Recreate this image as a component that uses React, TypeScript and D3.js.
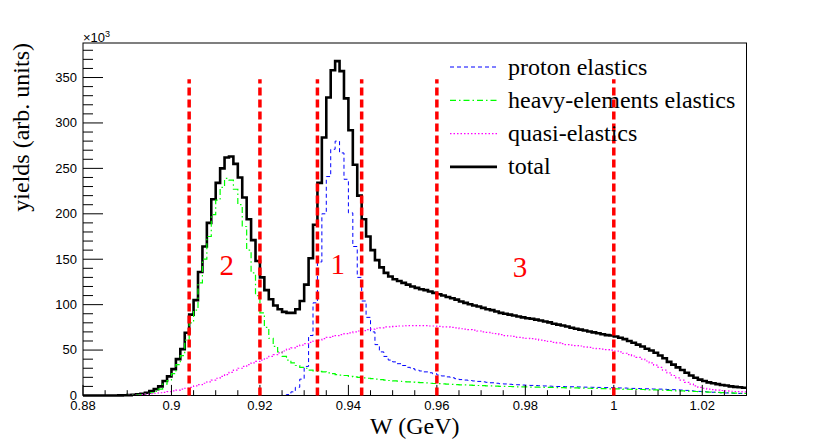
import * as d3 from "d3";

// bins of 0.001 GeV from 0.880 to 1.030
const binStart = 0.88;
const binWidth = 0.001;

// yields in units of 10^3
const total = [
  0, 0, 0, 0, 0, 0, 0, 0, 0.1, 0.2,
  0.4, 0.8, 1.2, 2, 3, 5, 7, 10, 16, 21,
  29, 40, 51, 69, 89, 105, 136, 164, 190, 216,
  234, 250, 262, 263, 255, 240, 218, 194, 171, 148,
  130, 116, 106, 99, 95, 92, 91, 91, 95, 104,
  122, 151, 188, 234, 284, 328, 358, 368, 357, 327,
  292, 254, 220, 194, 175, 160, 149, 141, 135, 131,
  128, 126, 124, 122, 120, 118.5, 117, 116, 114.5, 113,
  111.5, 110, 108.5, 107, 105.5, 103.5, 102, 100.5, 99, 98,
  96.5, 95, 94, 92.5, 91, 90, 89, 88, 87, 86,
  85, 84.5, 83.5, 82.5, 81.5, 80.5, 79, 78, 77, 76,
  74.5, 73.5, 72.5, 71.5, 70.5, 69.5, 68.5, 67.5, 66.5, 66,
  65, 63.5, 62, 60, 58, 56, 54, 51.5, 49.5, 47,
  44, 41, 37, 34, 31, 28, 25, 22, 19.5, 17.5,
  16, 14.5, 13.5, 12.5, 11.5, 11, 10, 9.5, 9, 8.5,
];

const proton = [
  0, 0, 0, 0, 0, 0, 0, 0, 0, 0,
  0, 0, 0, 0, 0, 0, 0, 0, 0, 0,
  0, 0, 0, 0, 0, 0, 0, 0, 0, 0,
  0, 0, 0, 0, 0, 0, 0, 0, 0, 0,
  0, 0, 0, 0, 0, 0.3, 1, 4, 9, 18,
  32, 66, 102, 147, 200, 241, 271, 280, 267, 238,
  201, 164, 130, 104, 86, 70, 56, 48, 43, 39,
  37, 35, 33, 31, 29.5, 28, 27, 26, 25, 24,
  22.5, 21.5, 20.5, 19.5, 18.5, 17.5, 17, 16.5, 16, 15.5,
  15, 14.5, 14, 13.5, 13, 12.7, 12.4, 12.1, 11.8, 11.5,
  11.3, 11.1, 10.9, 10.7, 10.5, 10.3, 10.1, 9.9, 9.8, 9.7,
  9.6, 9.5, 9.4, 9.2, 9.1, 9, 8.9, 8.8, 8.7, 8.6,
  8.5, 8.3, 8.2, 8, 7.8, 7.7, 7.5, 7.4, 7.2, 7.1,
  7, 6.8, 6.6, 6.4, 6.2, 6, 5.6, 5.2, 4.8, 4.5,
  4.2, 3.9, 3.6, 3.3, 3, 2.8, 2.6, 2.4, 2.3, 2.2,
];

const heavy = [
  0, 0, 0, 0, 0, 0, 0, 0, 0, 0,
  0.3, 0.5, 0.7, 1, 1.5, 3, 4.5, 7, 12.5, 16.5,
  24, 34, 44, 61, 80, 94, 124, 150, 175, 199,
  215, 229, 239, 237, 227, 210, 186, 160, 135, 110,
  91, 75, 63, 54, 48, 43, 39, 36, 33, 31,
  30, 28, 27, 26.5, 26, 25, 24, 23, 22.5, 22,
  21, 20.5, 20, 19.5, 19, 18.5, 18, 17.5, 17, 16.5,
  16, 15.7, 15.4, 15, 14.7, 14.4, 14.1, 13.8, 13.5, 13.2,
  13, 12.8, 12.5, 12.3, 12, 11.8, 11.6, 11.4, 11.2, 11,
  10.8, 10.6, 10.5, 10.3, 10.1, 10, 9.9, 9.8, 9.6, 9.5,
  9.4, 9.3, 9.2, 9.1, 9, 8.9, 8.8, 8.7, 8.6, 8.5,
  8.4, 8.3, 8.2, 8.1, 8, 7.9, 7.8, 7.6, 7.5, 7.4,
  7.3, 7.2, 7, 6.9, 6.8, 6.7, 6.6, 6.4, 6.3, 6.1,
  6, 5.8, 5.6, 5.4, 5.2, 5, 4.8, 4.6, 4.4, 4.2,
  4, 3.8, 3.6, 3.4, 3.2, 3, 2.8, 2.6, 2.5, 2.3,
];

const quasi = [
  0, 0, 0, 0, 0, 0, 0, 0, 0, 0,
  0.1, 0.3, 0.5, 1, 1.5, 2, 2.5, 3, 3.5, 4.2,
  5, 6, 7, 8, 9, 10.5, 12, 13.5, 15, 17,
  19, 21, 23, 25.5, 28, 30, 32, 34, 36, 37.5,
  39, 41, 43, 45, 47, 49, 51, 52.5, 54, 55.5,
  57, 58.5, 60, 61, 62.5, 64, 65, 66, 67, 68,
  69, 70, 71, 71.5, 72.5, 73, 74, 74.5, 75.5, 75.5,
  76, 76.5, 76.5, 77, 77, 77, 77, 77, 76.5, 76.5,
  76, 75.5, 75.5, 75, 74.5, 73.5, 73, 72.5, 72, 71,
  70, 69.5, 68.5, 68, 67, 66, 65.5, 65, 64, 63.5,
  63, 62.5, 62, 61, 60.5, 59.5, 58.5, 58, 57, 56,
  55.5, 55, 54.5, 53.5, 53, 52, 51.5, 51, 50.5, 50,
  49, 48, 46.5, 45, 43.5, 42, 40, 38, 36, 33.5,
  31, 28, 25, 22, 19.5, 17, 14.5, 12.5, 10.5, 9,
  8, 7, 6.5, 6, 5.5, 5, 4.7, 4.4, 4.2, 4,
];

const cutLines = [0.904, 0.92, 0.933, 0.943, 0.96, 1.0];
const regionLabels = [
  { text: "2", w: 0.9125, y: 133 },
  { text: "1", w: 0.9376, y: 134 },
  { text: "3", w: 0.9788, y: 130 },
];
const xTicks = [0.88, 0.9, 0.92, 0.94, 0.96, 0.98, 1, 1.02];
const yTicks = [0, 50, 100, 150, 200, 250, 300, 350];

const series = [
  { name: "proton elastics", values: proton, color: "#0000ff", width: 1, dash: "4,3" },
  { name: "heavy-elements elastics", values: heavy, color: "#00ff00", width: 1.2, dash: "6,3,1.5,3" },
  { name: "quasi-elastics", values: quasi, color: "#ff00ff", width: 1.2, dash: "1.5,2" },
  { name: "total", values: total, color: "#000000", width: 2.6, dash: undefined as string | undefined },
];

const W = 830;
const H = 440;
const frame = { left: 83, right: 746.5, top: 43, bottom: 395.5 };

export default function App() {
  const x = d3.scaleLinear().domain([0.88, 1.03]).range([frame.left, frame.right]);
  const y = d3.scaleLinear().domain([0, 388]).range([frame.bottom, frame.top]);

  const step = d3
    .line<[number, number]>()
    .x((d) => x(d[0]))
    .y((d) => y(d[1]))
    .curve(d3.curveStepAfter);

  const histPath = (values: number[]) => {
    const pts: [number, number][] = values.map((v, i) => [binStart + i * binWidth, v]);
    pts.push([binStart + values.length * binWidth, values[values.length - 1]]);
    return step(pts) ?? "";
  };

  const minorX = d3.range(0.88, 1.0301, 0.005);
  const minorY = d3.range(0, 389, 10);
  const sans = "'Liberation Sans', Arial, sans-serif";
  const serif = "'Liberation Serif', 'Times New Roman', serif";
  const drawOrder = [series[3], series[0], series[1], series[2]];

  return (
    <div style={{ position: "absolute", left: 0, top: 0 }}>
      <svg width={W} height={H} viewBox={`0 0 ${W} ${H}`} style={{ display: "block", background: "white" }}>
        <defs>
          <clipPath id="frameClip">
            <rect x={frame.left} y={frame.top - 2} width={frame.right - frame.left} height={frame.bottom - frame.top + 4} />
          </clipPath>
        </defs>

        <g clipPath="url(#frameClip)">
          {drawOrder.map((s) => (
            <path key={s.name} d={histPath(s.values)} fill="none" stroke={s.color} strokeWidth={s.width} strokeDasharray={s.dash} />
          ))}
        </g>

        {/* frame */}
        <rect x={frame.left} y={frame.top} width={frame.right - frame.left} height={frame.bottom - frame.top} fill="none" stroke="#000" strokeWidth={1} />

        {/* y axis ticks */}
        {minorY.map((t) => (
          <line key={`my${t}`} x1={frame.left} x2={frame.left + (t % 50 === 0 ? 20 : 10)} y1={y(t)} y2={y(t)} stroke="#000" strokeWidth={1} />
        ))}
        {yTicks.map((t) => (
          <text key={`ty${t}`} x={77} y={y(t) + 4.3} textAnchor="end" fontSize={13} fontFamily={sans} fill="#000">{t}</text>
        ))}
        <text x={frame.left} y={41.5} fontSize={13} fontFamily={sans} fill="#000">
          ×10<tspan dy={-5} fontSize={9}>3</tspan>
        </text>

        {/* x axis ticks */}
        {minorX.map((t, i) => (
          <line key={`mx${i}`} x1={x(t)} x2={x(t)} y1={frame.bottom} y2={frame.bottom - (i % 4 === 0 ? 10.6 : 5.3)} stroke="#000" strokeWidth={1} />
        ))}
        {xTicks.map((t) => (
          <text key={`tx${t}`} x={x(t)} y={410} textAnchor="middle" fontSize={13} fontFamily={sans} fill="#000">{String(t)}</text>
        ))}

        {/* axis titles */}
        <text transform={`translate(29, ${frame.top}) rotate(-90)`} textAnchor="end" fontSize={24} fontFamily={serif} fill="#000">yields (arb. units)</text>
        <text x={(frame.left + frame.right) / 2} y={434} textAnchor="middle" fontSize={24} fontFamily={serif} fill="#000">W (GeV)</text>

        {/* cut lines */}
        {cutLines.map((c) => (
          <line key={`c${c}`} x1={x(c)} x2={x(c)} y1={y(0)} y2={y(348)} stroke="#ff0000" strokeWidth={3.5} strokeDasharray="8,4" />
        ))}
        {regionLabels.map((l) => (
          <text key={l.text} x={x(l.w)} y={y(l.y)} textAnchor="middle" fontSize={29} fontFamily={serif} fill="#ff0000">{l.text}</text>
        ))}

        {/* legend */}
        {series.map((s, i) => (
          <g key={`leg${s.name}`} transform={`translate(0, ${67 + i * 33.3})`}>
            <line x1={450} x2={497} y1={0} y2={0} stroke={s.color} strokeWidth={s.width} strokeDasharray={s.dash} />
            <text x={508} y={7.5} fontSize={24} fontFamily={serif} fill="#000">{s.name}</text>
          </g>
        ))}
      </svg>
    </div>
  );
}
